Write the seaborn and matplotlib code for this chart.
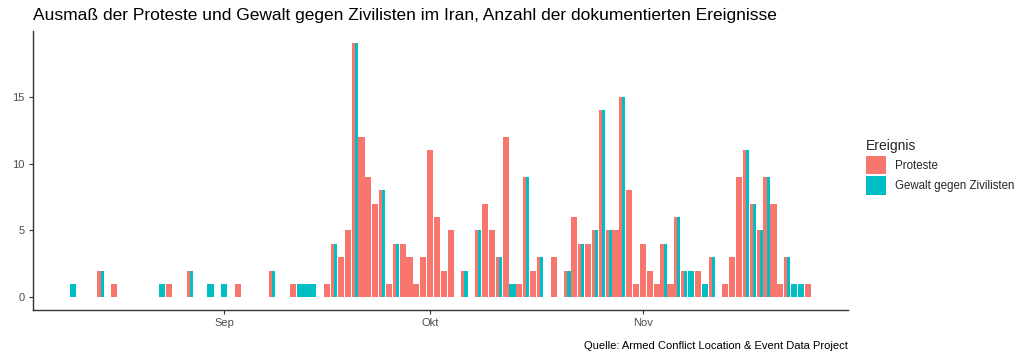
import seaborn as sns
import pandas as pd
import matplotlib.pyplot as plt
import matplotlib.dates as mdates
from matplotlib.patches import Patch

# Tage mit dokumentierten Ereignissen (ACLED), 2022
datum = [
    "2022-08-10", "2022-08-14", "2022-08-16", "2022-08-23", "2022-08-24", "2022-08-27",
    "2022-08-30", "2022-09-01", "2022-09-03", "2022-09-08", "2022-09-11", "2022-09-12",
    "2022-09-13", "2022-09-14", "2022-09-16", "2022-09-17", "2022-09-18", "2022-09-19",
    "2022-09-20", "2022-09-21", "2022-09-22", "2022-09-23", "2022-09-24", "2022-09-25",
    "2022-09-26", "2022-09-27", "2022-09-28", "2022-09-29", "2022-09-30", "2022-10-01",
    "2022-10-02", "2022-10-03", "2022-10-04", "2022-10-06", "2022-10-08", "2022-10-09",
    "2022-10-10", "2022-10-11", "2022-10-12", "2022-10-13", "2022-10-14", "2022-10-15",
    "2022-10-16", "2022-10-17", "2022-10-19", "2022-10-21", "2022-10-22", "2022-10-23",
    "2022-10-24", "2022-10-25", "2022-10-26", "2022-10-27", "2022-10-28", "2022-10-29",
    "2022-10-30", "2022-10-31", "2022-11-01", "2022-11-02", "2022-11-03", "2022-11-04",
    "2022-11-05", "2022-11-06", "2022-11-07", "2022-11-08", "2022-11-09", "2022-11-10",
    "2022-11-11", "2022-11-13", "2022-11-14", "2022-11-15", "2022-11-16", "2022-11-17",
    "2022-11-18", "2022-11-19", "2022-11-20", "2022-11-21", "2022-11-22", "2022-11-23",
    "2022-11-24", "2022-11-25",
]
anzahl = [
    1, 2, 1, 1, 1, 2,
    1, 1, 1, 2, 1, 1,
    1, 1, 1, 4, 3, 5,
    19, 12, 9, 7, 8, 1,
    4, 4, 3, 1, 3, 11,
    6, 2, 5, 2, 5, 7,
    5, 3, 12, 1, 1, 9,
    2, 3, 3, 2, 6, 4,
    4, 5, 14, 5, 5, 15,
    8, 1, 4, 2, 1, 4,
    1, 6, 2, 2, 2, 1,
    3, 1, 3, 9, 11, 7,
    5, 9, 7, 1, 3, 1,
    1, 1,
]
# P = Proteste, G = Gewalt gegen Zivilisten, PG = beides
typ = [
    "G", "PG", "P", "G", "P", "PG",
    "G", "G", "P", "PG", "P", "G",
    "G", "G", "P", "PG", "P", "P",
    "PG", "P", "P", "P", "PG", "P",
    "PG", "P", "P", "P", "P", "P",
    "P", "P", "P", "PG", "PG", "P",
    "P", "PG", "P", "G", "P", "PG",
    "P", "PG", "P", "PG", "P", "PG",
    "P", "PG", "PG", "PG", "P", "PG",
    "P", "P", "P", "P", "P", "PG",
    "P", "PG", "PG", "G", "P", "G",
    "PG", "P", "P", "P", "PG", "PG",
    "PG", "PG", "P", "P", "PG", "G",
    "G", "P",
]

kategorien = ["Proteste", "Gewalt gegen Zivilisten"]
farben = {"Proteste": "#F8766D", "Gewalt gegen Zivilisten": "#00BFC4"}

# long format, one row per day and category (like ggplot position_dodge)
rows = []
for d, n, t in zip(datum, anzahl, typ):
    beide = t == "PG"
    if "P" in t:
        rows.append((d, n, "Proteste", -0.225 if beide else 0.0, 0.45 if beide else 0.9))
    if "G" in t:
        rows.append((d, n, "Gewalt gegen Zivilisten", 0.225 if beide else 0.0, 0.45 if beide else 0.9))
df = pd.DataFrame(rows, columns=["datum", "anzahl", "ereignis", "offset", "breite"])
df["datum"] = pd.to_datetime(df["datum"])
df["x"] = mdates.date2num(df["datum"]) + df["offset"]

sns.set_theme(style="ticks")
plt.rcParams["font.family"] = ["Liberation Sans", "DejaVu Sans"]

fig = plt.figure(figsize=(10.24, 3.59), dpi=100)
ax = fig.add_axes([0.0322, 0.1365, 0.7958, 0.7785])

for k in kategorien:
    sub = df[df["ereignis"] == k]
    ax.bar(sub["x"], sub["anzahl"], width=sub["breite"], color=farben[k],
           linewidth=0, align="center")

# ggplot-like 5% expansion
lo = df["x"].min() - 0.45
hi = df["x"].max() + 0.45
pad = (hi - lo) * 0.05
ax.set_xlim(lo - pad, hi + pad)
ymax = df["anzahl"].max()
ax.set_ylim(-ymax * 0.05, ymax * 1.05)

ax.set_xticks(mdates.date2num(pd.to_datetime(["2022-09-01", "2022-10-01", "2022-11-01"])))
ax.set_xticklabels(["Sep", "Okt", "Nov"])
ax.set_yticks([0, 5, 10, 15])
ax.tick_params(axis="both", labelsize=8, labelcolor="#4D4D4D", color="#333333",
               length=3, width=0.8, pad=3)
ax.set_xlabel("")
ax.set_ylabel("")
sns.despine(ax=ax)
for s in ["left", "bottom"]:
    ax.spines[s].set_color("#333333")
    ax.spines[s].set_linewidth(1.0)

fig.text(0.032, 0.958, "Ausmaß der Proteste und Gewalt gegen Zivilisten im Iran, Anzahl der dokumentierten Ereignisse",
         fontsize=12.5, ha="left", va="center", color="black")
fig.text(0.828, 0.036, "Quelle: Armed Conflict Location & Event Data Project",
         fontsize=8, ha="right", va="center", color="black")

handles = [Patch(facecolor=farben[k], edgecolor="none", label=k) for k in kategorien]
leg = fig.legend(handles=handles, title="Ereignis", loc="upper left",
                 bbox_to_anchor=(0.846, 0.612), frameon=False, fontsize=8.3,
                 title_fontsize=10, handlelength=1.75, handleheight=2.1,
                 handletextpad=0.75, labelspacing=0.2, borderpad=0, borderaxespad=0,
                 alignment="left")

fig.savefig("out.png", dpi=100)
